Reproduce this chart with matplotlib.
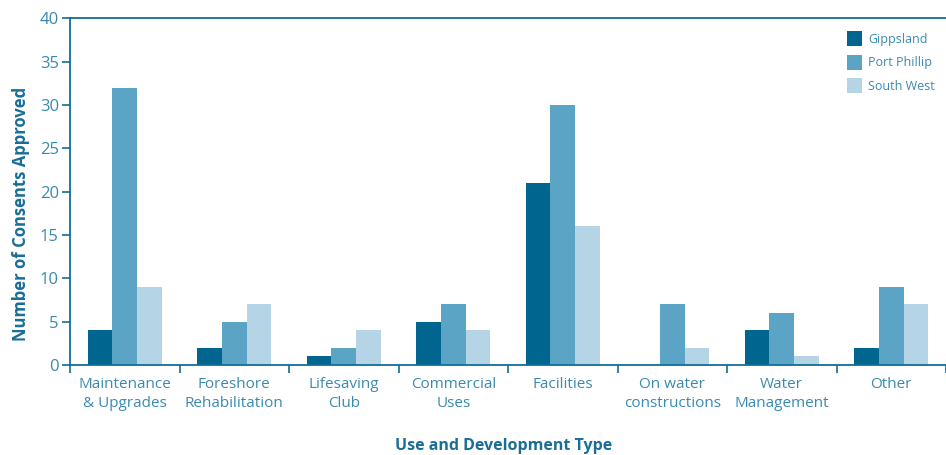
import numpy as np
import matplotlib.pyplot as plt

plt.rcParams['font.family'] = ['Open Sans', 'DejaVu Sans']

categories = ['Maintenance\n& Upgrades', 'Foreshore\nRehabilitation', 'Lifesaving\nClub',
              'Commercial\nUses', 'Facilities', 'On water\nconstructions', 'Water\nManagement', 'Other']
gippsland = [4, 2, 1, 5, 21, 0, 4, 2]
port_phillip = [32, 5, 2, 7, 30, 7, 6, 9]
south_west = [9, 7, 4, 4, 16, 2, 1, 7]

series = [('Gippsland', gippsland, '#00668F'),
          ('Port Phillip', port_phillip, '#5BA4C6'),
          ('South West', south_west, '#B5D4E5')]

axis_col = '#0F6E97'
text_col = '#3A8AB0'

fig = plt.figure(figsize=(9.46, 4.55), dpi=100)
ax = fig.add_axes([0.074, 0.198, 0.926, 0.762])

x = np.arange(len(categories))
w = 0.224
for i, (name, vals, col) in enumerate(series):
    ax.bar(x + (i - 1) * w, vals, w, color=col, label=name, zorder=2)

ax.set_xlim(-0.5, len(categories) - 0.5)
ax.set_ylim(0, 40)
ax.set_yticks(range(0, 41, 5))
ax.set_xticks(x)
ax.set_xticklabels(categories, fontsize=11, color=text_col, linespacing=1.3)
ax.set_xticks(np.arange(-0.5, len(categories) - 0.4, 1), minor=True)
ax.tick_params(axis='x', which='major', length=0, pad=9)
ax.tick_params(axis='x', which='minor', length=6, width=1.2, color=axis_col, direction='out')
ax.tick_params(axis='y', length=6, width=1.2, color=axis_col, labelsize=12, labelcolor=text_col, pad=2)

for s in ['left', 'top', 'bottom']:
    ax.spines[s].set_color(axis_col)
    ax.spines[s].set_linewidth(1.3)
ax.spines['right'].set_visible(False)

fig.text(0.022, 0.53, 'Number of Consents Approved', rotation=90, ha='center', va='center',
         fontsize=12, fontweight='bold', color='#1A6E96')
fig.text(0.532, 0.02, 'Use and Development Type', ha='center', va='center',
         fontsize=11.5, fontweight='bold', color='#1A6E96')

leg = ax.legend(loc='upper right', bbox_to_anchor=(1.0, 0.995), frameon=False, fontsize=9,
                handlelength=1.2, handleheight=1.5, labelspacing=0.65, handletextpad=0.5)
for t in leg.get_texts():
    t.set_color(text_col)

fig.savefig('out.png', dpi=100)
